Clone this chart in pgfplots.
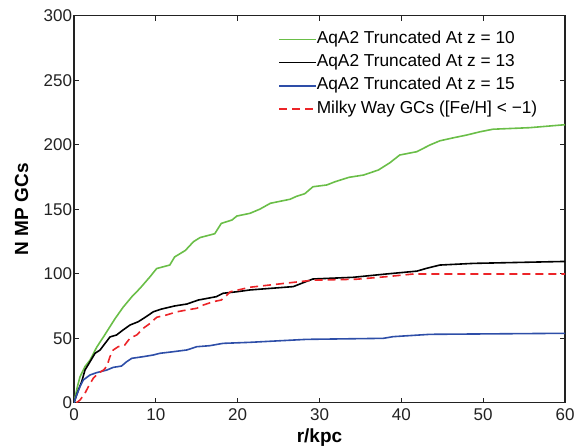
\documentclass[border=0pt]{standalone}
\usepackage{fontspec}
\setmainfont{Liberation Sans}
\usepackage{pgfplots}
\pgfplotsset{compat=1.18}
\definecolor{cgreen}{RGB}{106,190,72}
\definecolor{cblue}{RGB}{46,78,168}
\definecolor{cred}{RGB}{236,36,40}
\definecolor{caxis}{RGB}{34,34,34}

\begin{document}
\begin{tikzpicture}
\useasboundingbox (-74pt,-44.3pt) rectangle (503pt,402.7pt);
\begin{axis}[
  scale only axis,
  width=491pt, height=387pt,
  xmin=0, xmax=60, ymin=0, ymax=300,
  xtick={0,10,...,60}, ytick={0,50,...,300},
  tick align=inside,
  major tick length=5pt,
  axis line style={caxis, line width=1.1pt},
  every tick/.style={caxis, line width=0.9pt},
  /pgf/number format/assume math mode=true,
  tick label style={font=\fontsize{17}{20}\selectfont, text=caxis},
  xticklabel style={yshift=-2pt},
  yticklabel style={xshift=1.5pt},
  xlabel={\textbf{r/kpc}},
  ylabel={\textbf{N MP GCs}},
  label style={font=\fontsize{19}{22}\selectfont},
  xlabel style={at={(axis description cs:0.5,-0.1016)}, anchor=base},
  ylabel style={at={(axis description cs:-0.107,0.5)}, anchor=center, rotate=0},
  legend cell align=left,
  legend image code/.code={\draw[#1] (0pt,0pt) -- (37pt,0pt);},
  legend style={draw=none, fill=none, at={(axis description cs:0.4155,0.960)}, anchor=north west,
    inner sep=0pt, row sep=7.3pt, font=\fontsize{17.3}{20}\selectfont,
    nodes={inner sep=0pt, text height=12pt, text depth=4pt}},
]
\addplot[cgreen, line width=1.6pt] coordinates {
(0,0) (0.4,12) (0.73,20) (1.34,28) (1.96,33) (2.77,43) (3.6,51) (4.4,59) (5.0,65)
(6.0,74) (7.05,82) (8.07,88.7) (9.3,97.7) (10.1,104) (11.7,106.7) (12.3,113) (13.6,118)
(14.6,124.8) (15.4,128) (17.2,131) (18.0,139) (19.3,141.6) (19.9,144.7) (21.5,146.8)
(22.7,150) (24.0,154.6) (26.4,157.7) (27.2,160) (28.2,162) (29.2,167.4) (30.9,168.8)
(31.9,171.3) (33.6,174.7) (35.4,176.5) (37.2,180.4) (38.6,186) (39.8,192) (41.9,194.6)
(43.5,199.8) (44.7,203) (46.4,205.4) (48.0,207.5) (49.6,210) (51.2,212) (55.7,213.2) (60,215.5)
};
\addplot[black, line width=1.6pt] coordinates {
(0,0) (0.53,9.8) (0.94,16.3) (1.34,25.3) (1.96,31.8) (2.57,38.3) (3.18,40.8) (3.8,46)
(4.4,51) (5.2,52.5) (6.0,56.4) (6.84,60.2) (7.86,62.8) (8.7,66.2) (9.7,70.5) (10.7,72.6)
(12.3,75) (13.8,76.5) (15.2,79.6) (17.4,82.2) (18.2,84.8) (19.9,86) (21.5,87.4) (26.8,90)
(28.0,93) (29.2,95.9) (34.1,97.2) (38.2,99.8) (41.9,102) (43.1,104.2) (44.7,106.7)
(48.8,108) (60,109.5)
};
\addplot[cblue, line width=1.6pt] coordinates {
(0,0) (0.33,6) (0.73,12.4) (1.14,17.6) (1.96,21.5) (2.77,23.3) (4.0,25.3) (4.8,27.4)
(5.8,28.4) (6.44,31.8) (7.05,34.4) (8.47,35.7) (9.7,37) (10.5,38.3) (12.1,39.5)
(13.8,40.9) (15.0,43.4) (16.6,44.2) (18.2,46) (21.5,46.8) (28.4,49.1) (37.8,49.9)
(39.0,51.2) (43.5,53) (60,53.8)
};
\addplot[cred, line width=1.6pt, dash pattern=on 8pt off 5pt] coordinates {
(0.3,0) (0.73,2) (1.34,7.3) (1.75,12.4) (2.36,19) (2.97,22.8) (3.59,25.3) (4.0,28)
(4.4,35.7) (4.8,40.9) (5.4,43.4) (6.2,44.7) (6.84,50) (7.66,52.5) (8.47,57.7) (9.3,61.5)
(10.1,66.2) (11.3,68) (12.6,70.5) (13.8,71.9) (15.0,73.2) (15.8,75.7) (17.0,78.3)
(18.0,79.6) (18.7,83.5) (19.1,86) (21.5,89.5) (26.4,93) (29.2,95) (34.5,95.7)
(38.2,97.7) (41.5,99.8) (60,99.8)
};
\legend{AqA2 Truncated At z = 10, AqA2 Truncated At z = 13, AqA2 Truncated At z = 15, Milky Way GCs ([Fe/H] < \textminus1)}
\end{axis}
\end{tikzpicture}
\end{document}
